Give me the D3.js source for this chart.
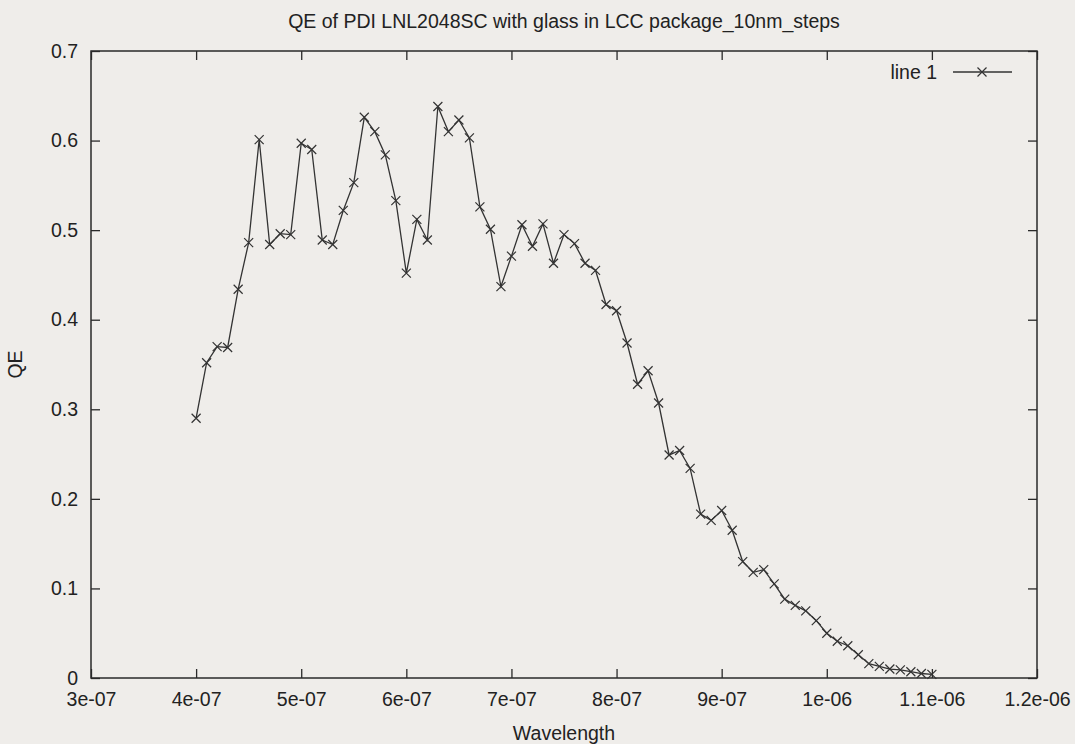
<!DOCTYPE html>
<html>
<head>
<meta charset="utf-8">
<script src="https://cdn.jsdelivr.net/npm/d3@7"></script>
<style>
  html, body { margin: 0; padding: 0; background: #efedea; }
  svg { display: block; }
  text { font-family: "Liberation Sans", Arial, Helvetica, sans-serif; fill: #222; }
</style>
</head>
<body>
<svg id="chart" width="1075" height="744"></svg>
<script>
// wavelengths in metres (10 nm steps)
const wavelength = [
  4.0e-7, 4.1e-7, 4.2e-7, 4.3e-7, 4.4e-7, 4.5e-7, 4.6e-7, 4.7e-7, 4.8e-7, 4.9e-7,
  5.0e-7, 5.1e-7, 5.2e-7, 5.3e-7, 5.4e-7, 5.5e-7, 5.6e-7, 5.7e-7, 5.8e-7, 5.9e-7,
  6.0e-7, 6.1e-7, 6.2e-7, 6.3e-7, 6.4e-7, 6.5e-7, 6.6e-7, 6.7e-7, 6.8e-7, 6.9e-7,
  7.0e-7, 7.1e-7, 7.2e-7, 7.3e-7, 7.4e-7, 7.5e-7, 7.6e-7, 7.7e-7, 7.8e-7, 7.9e-7,
  8.0e-7, 8.1e-7, 8.2e-7, 8.3e-7, 8.4e-7, 8.5e-7, 8.6e-7, 8.7e-7, 8.8e-7, 8.9e-7,
  9.0e-7, 9.1e-7, 9.2e-7, 9.3e-7, 9.4e-7, 9.5e-7, 9.6e-7, 9.7e-7, 9.8e-7, 9.9e-7,
  1.0e-6, 1.01e-6, 1.02e-6, 1.03e-6, 1.04e-6, 1.05e-6, 1.06e-6, 1.07e-6, 1.08e-6, 1.09e-6,
  1.1e-6
];
const qe = [
  0.290, 0.352, 0.370, 0.369, 0.434, 0.486, 0.601, 0.484, 0.496, 0.495,
  0.597, 0.590, 0.489, 0.484, 0.522, 0.553, 0.626, 0.610, 0.584, 0.533,
  0.452, 0.512, 0.489, 0.638, 0.610, 0.623, 0.603, 0.526, 0.501, 0.437,
  0.471, 0.506, 0.482, 0.507, 0.463, 0.495, 0.485, 0.463, 0.455, 0.417,
  0.410, 0.374, 0.328, 0.343, 0.307, 0.249, 0.254, 0.234, 0.183, 0.176,
  0.187, 0.165, 0.130, 0.118, 0.121, 0.105, 0.088, 0.081, 0.075, 0.064,
  0.050, 0.041, 0.036, 0.026, 0.016, 0.013, 0.010, 0.009, 0.007, 0.005,
  0.004
];
const xTicks = [3e-7, 4e-7, 5e-7, 6e-7, 7e-7, 8e-7, 9e-7, 1e-6, 1.1e-6, 1.2e-6];
const xTickLabels = ["3e-07", "4e-07", "5e-07", "6e-07", "7e-07", "8e-07", "9e-07", "1e-06", "1.1e-06", "1.2e-06"];
const yTicks = [0, 0.1, 0.2, 0.3, 0.4, 0.5, 0.6, 0.7];
const yTickLabels = ["0", "0.1", "0.2", "0.3", "0.4", "0.5", "0.6", "0.7"];

const title = "QE of PDI LNL2048SC with glass in LCC package_10nm_steps";
const xLabel = "Wavelength";
const yLabel = "QE";
const seriesName = "line 1";

const svg = d3.select("#chart");
const L = 91, R = 1037, T = 51, B = 678;
const x = d3.scaleLinear().domain([3e-7, 1.2e-6]).range([L, R]);
const y = d3.scaleLinear().domain([0, 0.7]).range([B, T]);
const fs = 19.5;
const ink = "#2a2a2a";
const tickLen = 9;

// axes with inward ticks
const gx = svg.append("g").attr("transform", `translate(0,${B})`)
  .call(d3.axisBottom(x).tickValues(xTicks).tickFormat((d, i) => xTickLabels[i]).tickSizeInner(-tickLen).tickSizeOuter(0).tickPadding(14));
const gxTop = svg.append("g").attr("transform", `translate(0,${T})`)
  .call(d3.axisTop(x).tickValues(xTicks).tickFormat("").tickSizeInner(-tickLen).tickSizeOuter(0));
const gy = svg.append("g").attr("transform", `translate(${L},0)`)
  .call(d3.axisLeft(y).tickValues(yTicks).tickFormat((d, i) => yTickLabels[i]).tickSizeInner(-tickLen).tickSizeOuter(0).tickPadding(13));
const gyR = svg.append("g").attr("transform", `translate(${R},0)`)
  .call(d3.axisRight(y).tickValues(yTicks).tickFormat("").tickSizeInner(-tickLen).tickSizeOuter(0));

[gx, gxTop, gy, gyR].forEach(g => {
  g.select(".domain").remove();
  g.selectAll(".tick line").attr("stroke", ink).attr("stroke-width", 1.3);
  g.selectAll(".tick text").attr("font-size", fs).attr("fill", "#222")
    .attr("font-family", '"Liberation Sans", Arial, sans-serif');
});
gx.selectAll(".tick text").attr("dy", "0.71em");

// frame
svg.append("rect").attr("x", L).attr("y", T).attr("width", R - L).attr("height", B - T)
  .attr("fill", "none").attr("stroke", ink).attr("stroke-width", 1.5);

// title & labels
svg.append("text").attr("x", (L + R) / 2).attr("y", 28).attr("text-anchor", "middle")
  .attr("font-size", fs).text(title);
svg.append("text").attr("x", (L + R) / 2).attr("y", 740).attr("text-anchor", "middle")
  .attr("font-size", fs).text(xLabel);
svg.append("text").attr("transform", `translate(22,${(T + B) / 2}) rotate(-90)`)
  .attr("text-anchor", "middle").attr("font-size", fs).text(yLabel);

// data line
const pts = wavelength.map((w, i) => [w, qe[i]]);
svg.append("path").datum(pts)
  .attr("fill", "none").attr("stroke", "#333").attr("stroke-width", 1.3)
  .attr("d", d3.line().x(d => x(d[0])).y(d => y(d[1])));

const m = 4.5;
const cross = (cx, cy) => `M${cx - m},${cy - m}L${cx + m},${cy + m}M${cx - m},${cy + m}L${cx + m},${cy - m}`;
svg.append("g").selectAll("path").data(pts).join("path")
  .attr("d", d => cross(x(d[0]), y(d[1])))
  .attr("stroke", "#333").attr("stroke-width", 1.2).attr("fill", "none");

// legend
const ly = 72;
svg.append("text").attr("x", 937).attr("y", ly).attr("dy", "0.35em").attr("text-anchor", "end")
  .attr("font-size", fs).text(seriesName);
svg.append("line").attr("x1", 953).attr("x2", 1012).attr("y1", ly).attr("y2", ly)
  .attr("stroke", "#333").attr("stroke-width", 1.3);
svg.append("path").attr("d", cross(982, ly)).attr("stroke", "#333").attr("stroke-width", 1.2);
</script>
</body>
</html>
